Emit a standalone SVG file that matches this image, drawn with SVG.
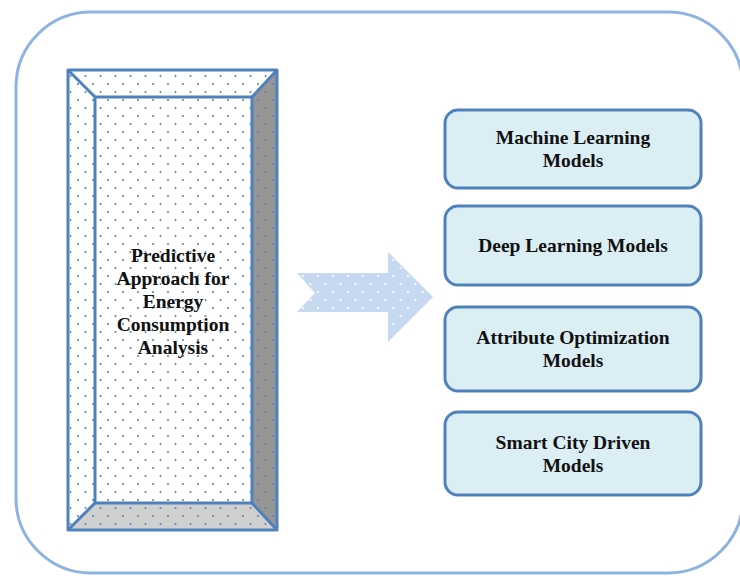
<svg xmlns="http://www.w3.org/2000/svg" width="740" height="576" viewBox="0 0 740 576">
<defs>
<pattern id="dotsBlue" patternUnits="userSpaceOnUse" width="15" height="16" x="0" y="0">
<circle cx="3" cy="4" r="1" fill="#4f81bd"/>
<circle cx="10.5" cy="12" r="1" fill="#4f81bd"/>
</pattern>
<pattern id="dotsWhite" patternUnits="userSpaceOnUse" width="15" height="16" x="0" y="0">
<circle cx="3" cy="4" r="1.1" fill="#ffffff"/>
<circle cx="10.5" cy="12" r="1.1" fill="#ffffff"/>
</pattern>
<style>
.t{font-family:"Liberation Serif","Times New Roman",serif;font-weight:bold;font-size:19.5px;fill:#111;text-anchor:middle}
.box{fill:#dbeef4;stroke:#4f81bd;stroke-width:3}
.edge{fill:none;stroke:#4f81bd;stroke-width:3;stroke-linejoin:round}
</style>
</defs>
<rect id="frame" x="16" y="12" width="727" height="561" rx="75" ry="75" fill="#ffffff" stroke="#8db3e2" stroke-width="3"/>
<g id="pillar">
<rect x="68" y="70" width="209" height="460" fill="#ffffff"/>
<polygon points="277,70 252,97 252,503 277,530" fill="#969696"/>
<polygon points="68,530 95,503 252,503 277,530" fill="#d0d0d0"/>
<rect x="68" y="70" width="209" height="460" fill="url(#dotsBlue)"/>
<rect x="68" y="70" width="209" height="460" class="edge"/>
<rect x="95" y="97" width="157" height="406" class="edge"/>
<line x1="68" y1="70" x2="95" y2="97" class="edge"/>
<line x1="277" y1="70" x2="252" y2="97" class="edge"/>
<line x1="68" y1="530" x2="95" y2="503" class="edge"/>
<line x1="277" y1="530" x2="252" y2="503" class="edge"/>
<text class="t" x="173" y="262">Predictive</text>
<text class="t" x="173" y="285">Approach for</text>
<text class="t" x="173" y="308">Energy</text>
<text class="t" x="173" y="331">Consumption</text>
<text class="t" x="173" y="354">Analysis</text>
</g>
<g id="connectors">
<polygon points="297,273 388,273 388,252 433,297 388,342 388,312 297,312 315,293" fill="#c6d9f1"/>
<polygon points="297,273 388,273 388,252 433,297 388,342 388,312 297,312 315,293" fill="url(#dotsWhite)"/>
</g>
<g id="ml">
<rect class="box" x="445" y="110" width="256" height="78" rx="13"/>
<text class="t" x="573" y="144">Machine Learning</text>
<text class="t" x="573" y="167">Models</text>
</g>
<g id="dl">
<rect class="box" x="445" y="206" width="256" height="79" rx="13"/>
<text class="t" x="573" y="252">Deep Learning Models</text>
</g>
<g id="ao">
<rect class="box" x="445" y="307" width="256" height="84" rx="13"/>
<text class="t" x="573" y="344">Attribute Optimization</text>
<text class="t" x="573" y="367">Models</text>
</g>
<g id="sc">
<rect class="box" x="445" y="412" width="256" height="83" rx="13"/>
<text class="t" x="573" y="449">Smart City Driven</text>
<text class="t" x="573" y="472">Models</text>
</g>
</svg>
